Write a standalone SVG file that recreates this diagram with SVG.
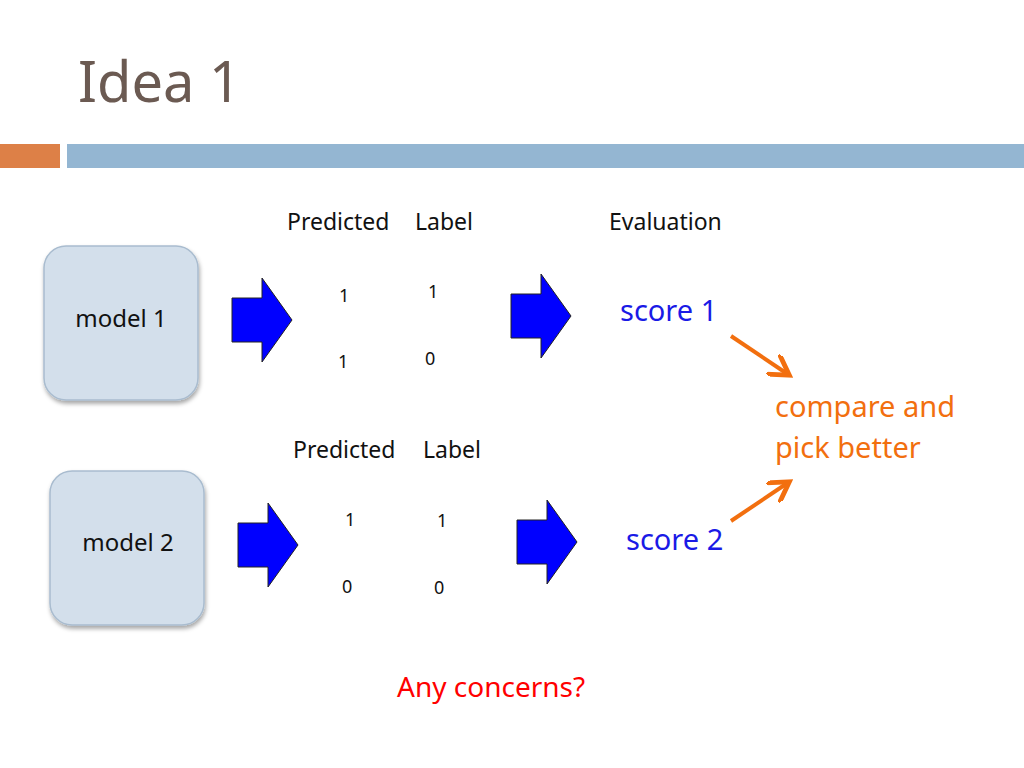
<svg xmlns="http://www.w3.org/2000/svg" width="1024" height="768" viewBox="0 0 1024 768">
<defs>
<style>
text{font-family:"Noto Sans","Liberation Sans",sans-serif}
.n{fill:#d3dfeb;stroke:#a9bccf;stroke-width:1.5}
.b{fill:#0000ff;stroke:#222;stroke-width:1}
.s{font-size:23px;fill:#111}
.m{font-size:24px;fill:#111}
.d{font-size:18px;fill:#111}
.o{stroke:#f26f0f;stroke-width:4;fill:none}
</style>
<filter id="sh"><feDropShadow dx="1" dy="3" stdDeviation="2" flood-opacity="0.35"/></filter>
<marker id="ah" markerWidth="6" markerHeight="6" refX="4" refY="3" orient="auto"><path d="M0,0 L5,3 L0,6" fill="none" stroke="#f26f0f" stroke-width="1.2"/></marker>
</defs>
<rect width="1024" height="768" fill="#fff"/>
<text x="78" y="102" font-size="56" fill="#6b5a52">Idea 1</text>
<rect x="0" y="144" width="60" height="24" fill="#dd8047"/>
<rect x="67" y="144" width="957" height="24" fill="#94b6d2"/>
<g id="model1"><rect class="n" x="44" y="246" width="154" height="154" rx="22" filter="url(#sh)"/><text class="m" x="121" y="327" text-anchor="middle">model 1</text></g>
<g id="model2"><rect class="n" x="50" y="471" width="154" height="154" rx="22" filter="url(#sh)"/><text class="m" x="128" y="551" text-anchor="middle">model 2</text></g>
<g id="connectors">
<path class="b" d="M232,298 H262 V278 L292,320 L262,362 V342 H232 Z"/>
<path class="b" d="M511,294 H541 V274 L571,316 L541,358 V338 H511 Z"/>
<path class="b" d="M238,523 H268 V503 L298,545 L268,587 V567 H238 Z"/>
<path class="b" d="M517,520 H547 V500 L577,542 L547,584 V564 H517 Z"/>
<line class="o" x1="731" y1="336" x2="786" y2="373" marker-end="url(#ah)"/>
<line class="o" x1="731" y1="521" x2="786" y2="484" marker-end="url(#ah)"/>
</g>
<g id="table1">
<text class="s" x="287" y="230">Predicted</text><text class="s" x="415" y="230">Label</text>
<text class="d" x="339" y="302">1</text><text class="d" x="428" y="298">1</text>
<text class="d" x="338" y="368">1</text><text class="d" x="425" y="365">0</text>
</g>
<g id="table2">
<text class="s" x="293" y="458">Predicted</text><text class="s" x="423" y="458">Label</text>
<text class="d" x="345" y="526">1</text><text class="d" x="437" y="527">1</text>
<text class="d" x="342" y="593">0</text><text class="d" x="434" y="594">0</text>
</g>
<text class="s" x="609" y="230">Evaluation</text>
<text x="620" y="321" font-size="29" fill="#1a1ae6">score 1</text>
<text x="626" y="550" font-size="29" fill="#1a1ae6">score 2</text>
<text x="775" y="417" font-size="29" fill="#f26f0f">compare and</text>
<text x="775" y="458" font-size="29" fill="#f26f0f">pick better</text>
<text x="397" y="697" font-size="28" fill="#ff0000">Any concerns?</text>
</svg>
